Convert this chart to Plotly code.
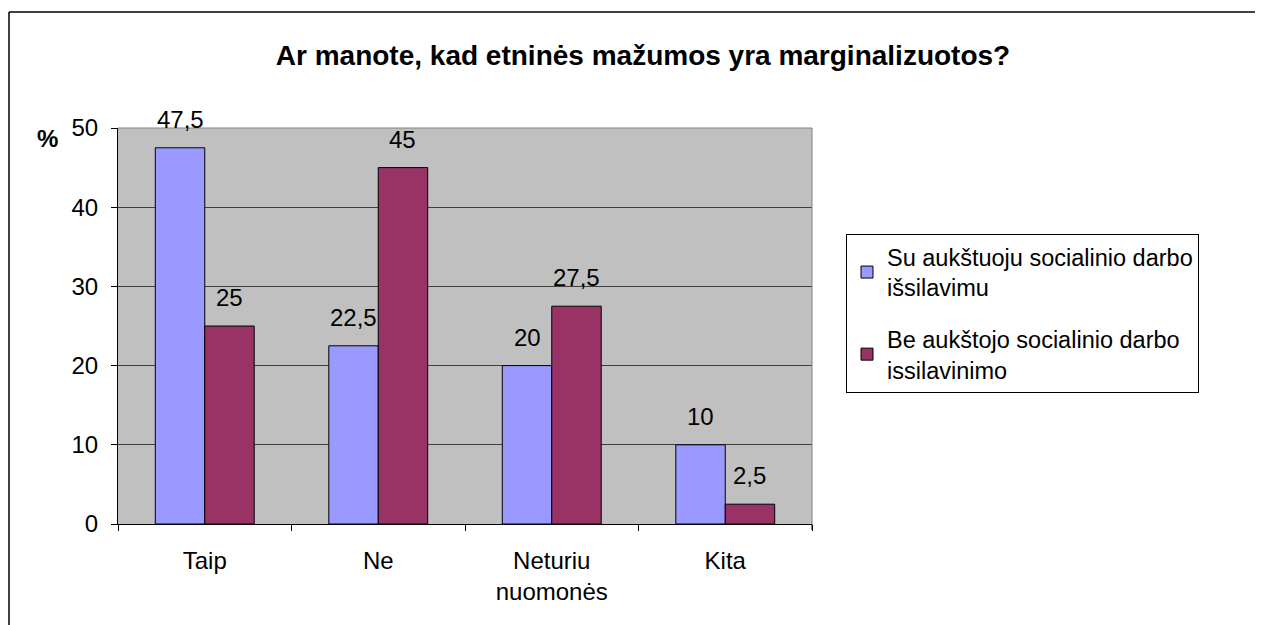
import plotly.graph_objects as go

# Survey data
categories = ["Taip", "Ne", "Neturiu<br>nuomonės", "Kita"]
with_degree = [47.5, 22.5, 20, 10]
without_degree = [25, 45, 27.5, 2.5]
series_names = [
    "Su aukštuoju socialinio darbo<br>išsilavimu",
    "Be aukštojo socialinio darbo<br>issilavinimo",
]
colors = ["#9999FF", "#993366"]
y_ticks = [0, 10, 20, 30, 40, 50]

BARGAP = 0.43
FONT = "Liberation Sans, Arial, sans-serif"


def fmt(v):
    return str(v).replace(".", ",")


fig = go.Figure()
for k, (name, vals, col) in enumerate(zip(series_names, [with_degree, without_degree], colors)):
    fig.add_trace(go.Bar(
        x=categories,
        y=vals,
        name=name,
        legendgroup=f"g{k}",
        marker=dict(color=col, line=dict(color="black", width=1)),
        cliponaxis=False,
    ))

# value labels, placed a bit above each bar (like the Excel original)
half = (1 - BARGAP) / 4
for k, vals in enumerate([with_degree, without_degree]):
    for i, v in enumerate(vals):
        fig.add_annotation(
            x=i + (half if k else -half), y=v, xref="x", yref="y",
            text=fmt(v), showarrow=False, yanchor="bottom", yshift=13,
            font=dict(size=24),
        )

# page body adds an 8px offset, so work in reference pixels minus 8
OFF = 8
W, H = 1263 - OFF, 625 - OFF
L, R, T, B = 118 - OFF, 812 - OFF, 128 - OFF, 524 - OFF
pw, ph = R - L, B - T


def px(x):
    return (x - OFF - L) / pw


def py(y):
    return (B - (y - OFF)) / ph


fig.update_layout(
    width=W, height=H,
    margin=dict(l=L, r=W - R, t=T, b=H - B, autoexpand=False),
    paper_bgcolor="white",
    plot_bgcolor="#C0C0C0",
    font=dict(family=FONT, size=24, color="black"),
    barmode="group",
    bargap=BARGAP,
    bargroupgap=0,
    title=dict(
        text="<b>Ar manote, kad etninės mažumos yra marginalizuotos?</b>",
        x=(643 - OFF) / W, xref="container", xanchor="center",
        y=1 - (55 - OFF) / H, yref="container", yanchor="middle",
        font=dict(size=28),
    ),
    legend=dict(
        x=px(846), y=py(234), xanchor="left", yanchor="top",
        bordercolor="black", borderwidth=1, bgcolor="white",
        font=dict(size=23.5), tracegroupgap=18,
    ),
    showlegend=True,
)

fig.update_xaxes(
    showline=True, linecolor="black", linewidth=1,
    ticks="outside", tickson="boundaries", ticklen=6, tickcolor="black",
    ticklabelstandoff=15, showgrid=False,
)
fig.update_yaxes(
    range=[0, 50], tickvals=y_ticks,
    showline=True, linecolor="black", linewidth=1,
    ticks="outside", ticklen=6, tickcolor="black",
    ticklabelstandoff=8,
    showgrid=True, gridcolor="#404040", gridwidth=1,
    zeroline=False,
)

# plot-area frame on top and right
fig.add_shape(type="line", xref="paper", yref="paper", x0=0, x1=1, y0=1, y1=1,
              line=dict(color="#808080", width=1))
fig.add_shape(type="line", xref="paper", yref="paper", x0=1, x1=1, y0=0, y1=1,
              line=dict(color="#808080", width=1))
fig.add_shape(type="line", xref="paper", yref="paper", x0=1, x1=1, y0=0, y1=py(530),
              line=dict(color="black", width=1))

# outer chart border (left and top)
fig.add_shape(type="line", xref="paper", yref="paper", x0=px(9), x1=px(9), y0=py(640), y1=py(12),
              line=dict(color="black", width=1.5))
fig.add_shape(type="line", xref="paper", yref="paper", x0=px(9), x1=px(1280), y0=py(12), y1=py(12),
              line=dict(color="black", width=1.5))

fig.add_annotation(text="<b>%</b>", xref="paper", yref="paper", x=px(47), y=py(138),
                   xanchor="center", yanchor="middle",
                   showarrow=False, font=dict(size=24))

fig.write_html("out.html")
